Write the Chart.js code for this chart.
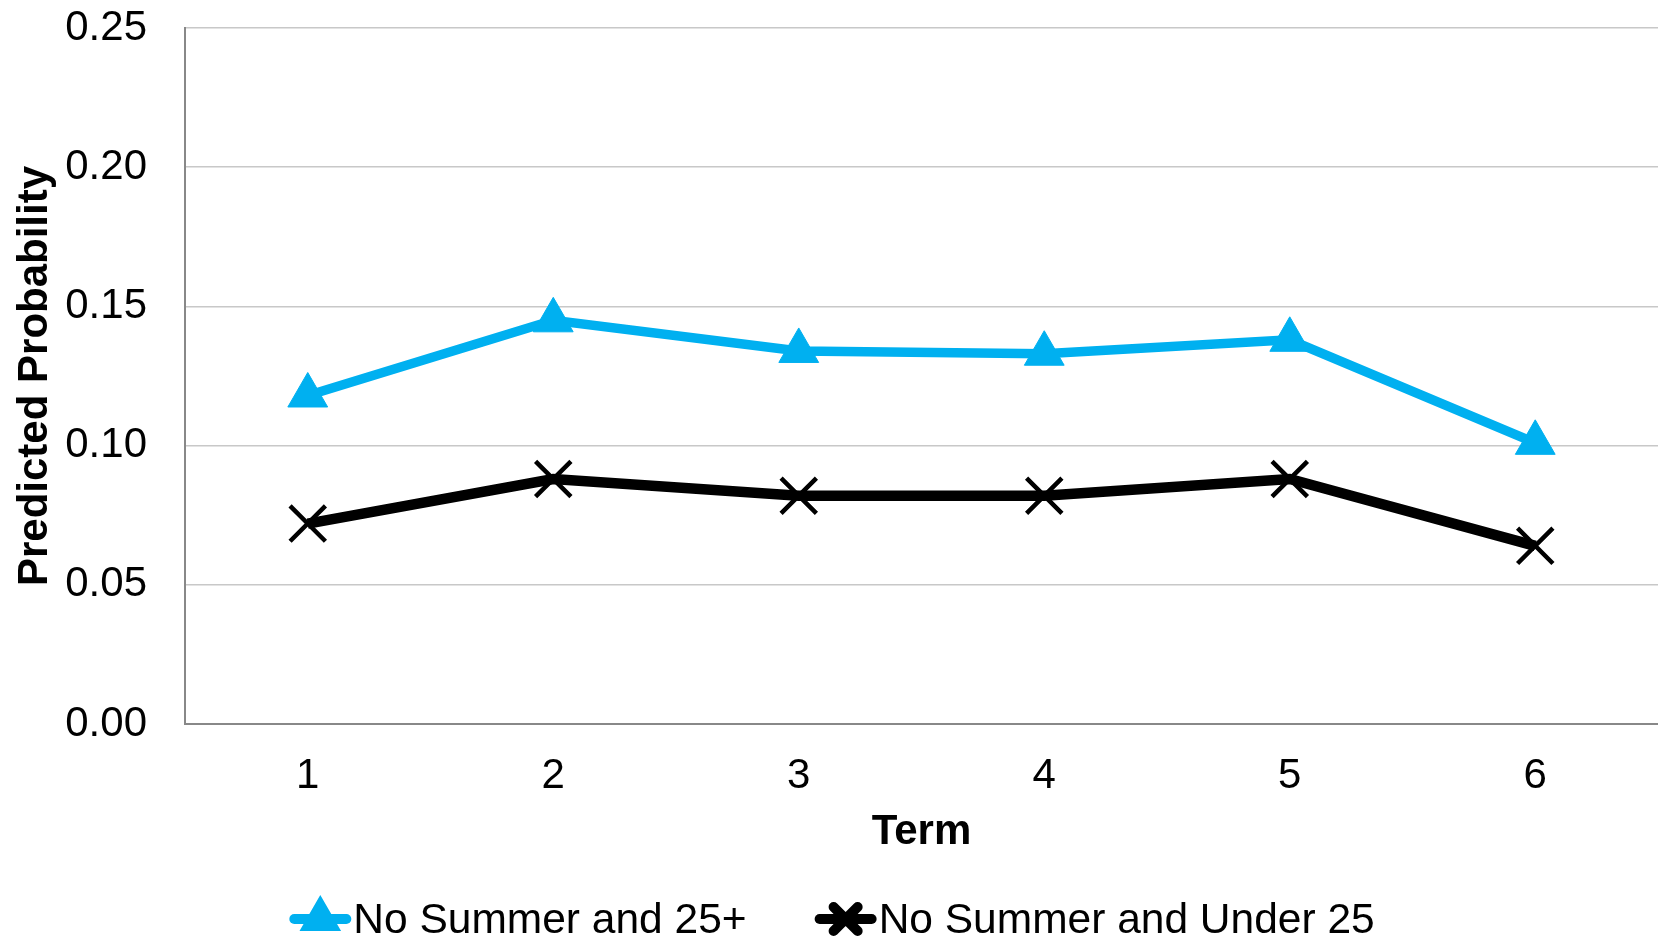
<!DOCTYPE html>
<html>
<head>
<meta charset="utf-8">
<title>Predicted Probability by Term</title>
<script src="https://cdn.jsdelivr.net/npm/chart.js@4.4.1/dist/chart.umd.min.js"></script>
<style>
  html, body { margin: 0; padding: 0; background: #fff; }
</style>
</head>
<body>
<canvas id="chart" width="1658" height="940"></canvas>
<script>
// Chart data
const terms = ["1", "2", "3", "4", "5", "6"];
const over25 = [0.118, 0.145, 0.134, 0.133, 0.138, 0.101];
const under25 = [0.072, 0.088, 0.082, 0.082, 0.088, 0.064];
const yTicks = [0, 0.05, 0.1, 0.15, 0.2, 0.25];
const seriesNames = ["No Summer and 25+", "No Summer and Under 25"];

const BLUE = "#00b0f0";
const FONT = "'Liberation Sans', Arial, sans-serif";
const FONT_SIZE = 42;

// Legend drawn as line sample + marker, like the spreadsheet one
const lineLegend = {
  id: "lineLegend",
  afterDraw(chart) {
    const ctx = chart.ctx;
    const sets = chart.data.datasets;
    const sampleW = 62;
    const gapText = 2;
    const gapItems = 68;
    const y = 919;

    ctx.save();
    ctx.font = "42.5px " + FONT;
    const widths = sets.map((ds) => sampleW + gapText + ctx.measureText(ds.label).width);
    const total = widths.reduce((a, b) => a + b, 0) + gapItems * (sets.length - 1);
    let x = chart.width / 2 + 3 - total / 2;

    sets.forEach((ds, i) => {
      ctx.strokeStyle = ds.borderColor;
      ctx.lineWidth = 10;
      ctx.lineCap = "round";
      ctx.beginPath();
      ctx.moveTo(x + 5, y);
      ctx.lineTo(x + sampleW - 5, y);
      ctx.stroke();

      ctx.fillStyle = ds.pointBackgroundColor;
      ctx.strokeStyle = ds.pointBorderColor;
      Chart.helpers.drawPoint(
        ctx,
        {
          pointStyle: ds.pointStyle,
          radius: ds.legendRadius,
          borderWidth: ds.pointBorderWidth,
          rotation: 0,
        },
        x + sampleW / 2,
        y
      );

      ctx.fillStyle = "#000";
      ctx.textAlign = "left";
      ctx.textBaseline = "alphabetic";
      ctx.fillText(ds.label, x + sampleW + gapText, y + 14);
      x += widths[i] + gapItems;
    });
    ctx.restore();
  },
};

const ctx = document.getElementById("chart").getContext("2d");

new Chart(ctx, {
  type: "line",
  data: {
    labels: terms,
    datasets: [
      {
        label: seriesNames[0],
        data: over25,
        borderColor: BLUE,
        backgroundColor: BLUE,
        borderWidth: 9.5,
        pointStyle: "triangle",
        pointRadius: 23,
        pointBorderWidth: 1,
        pointBackgroundColor: BLUE,
        pointBorderColor: BLUE,
        legendRadius: 14,
        tension: 0,
      },
      {
        label: seriesNames[1],
        data: under25,
        borderColor: "#000000",
        backgroundColor: "#000000",
        borderWidth: 10.5,
        pointStyle: "crossRot",
        pointRadius: 25,
        pointBorderWidth: 4.5,
        pointBackgroundColor: "#000000",
        pointBorderColor: "#000000",
        legendRadius: 17,
        tension: 0,
      },
    ],
  },
  options: {
    responsive: false,
    animation: false,
    layout: {
      autoPadding: false,
      padding: { top: 28, right: 0, bottom: 76, left: 0 },
    },
    plugins: {
      legend: { display: false },
      tooltip: { enabled: false },
    },
    scales: {
      x: {
        offset: true,
        grid: { display: false, drawTicks: false },
        border: { display: true, color: "#888888", width: 2 },
        ticks: {
          color: "#000",
          padding: 27,
          font: { family: FONT, size: FONT_SIZE },
        },
        title: {
          display: true,
          text: "Term",
          color: "#000",
          padding: { top: 0, bottom: 6 },
          font: { family: FONT, size: FONT_SIZE, weight: "bold" },
        },
        afterFit: (axis) => {
          axis.height = 140;
          axis.paddingLeft = 0;
          axis.paddingRight = 0;
        },
      },
      y: {
        min: 0,
        max: 0.25,
        afterBuildTicks: (axis) => {
          axis.ticks = yTicks.map((v) => ({ value: v }));
        },
        grid: { color: "#c8c8c8", lineWidth: 1.5, drawTicks: false },
        border: { display: true, color: "#888888", width: 2 },
        ticks: {
          color: "#000",
          padding: 38,
          font: { family: FONT, size: FONT_SIZE },
          callback: (v) => Number(v).toFixed(2),
        },
        title: {
          display: true,
          text: "Predicted Probability",
          color: "#000",
          padding: { top: 10, bottom: 0 },
          font: { family: FONT, size: FONT_SIZE, weight: "bold" },
        },
        afterFit: (axis) => {
          axis.width = 185;
          axis.paddingTop = 0;
          axis.paddingBottom = 0;
        },
      },
    },
  },
  plugins: [lineLegend],
});
</script>
</body>
</html>
